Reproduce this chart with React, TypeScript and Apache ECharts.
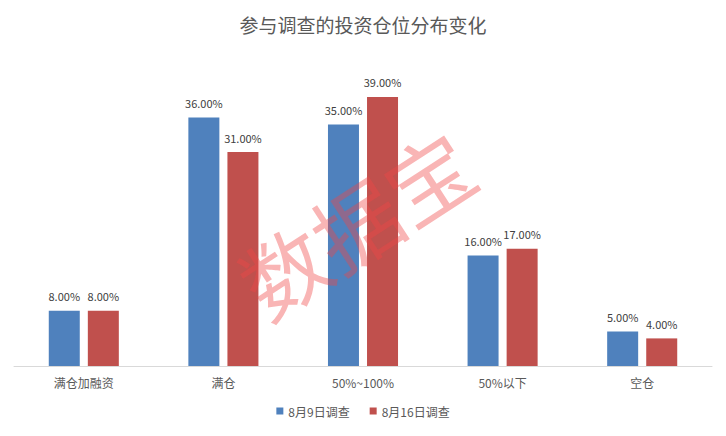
import React, { useEffect, useRef } from "react";
import * as echarts from "echarts";

const categories = ["满仓加融资", "满仓", "50%~100%", "50%以下", "空仓"];
const seriesNames = ["8月9日调查", "8月16日调查"];
const aug9 = [8, 36, 35, 16, 5];
const aug16 = [8, 31, 39, 17, 4];

export default function App() {
  const ref = useRef<HTMLDivElement>(null);
  useEffect(() => {
    const chart = echarts.init(ref.current!, null, { renderer: "svg" });
    const font = "'Microsoft YaHei', 'Noto Sans CJK SC', sans-serif";
    const label = {
      show: true,
      position: "top",
      distance: 9,
      formatter: (p: any) => p.value.toFixed(2) + "%",
      fontSize: 11,
      color: "#404040",
      fontFamily: font,
    };
    chart.setOption({
      animation: false,
      backgroundColor: "#ffffff",
      title: {
        text: "参与调查的投资仓位分布变化",
        left: "center",
        top: 10,
        textStyle: { fontSize: 19, fontWeight: "normal", color: "#595959", fontFamily: font },
      },
      legend: {
        bottom: 14,
        left: "center",
        itemWidth: 7,
        itemHeight: 7,
        itemGap: 20,
        icon: "rect",
        textStyle: { fontSize: 12, color: "#595959", fontFamily: font },
        data: seriesNames,
      },
      grid: { left: 14, right: 14, top: 55.5, bottom: 70, containLabel: false },
      xAxis: {
        type: "category",
        data: categories,
        axisLine: { lineStyle: { color: "#d9d9d9", width: 1 } },
        axisTick: { show: false },
        axisLabel: { fontSize: 12, color: "#595959", margin: 10, fontFamily: font },
      },
      yAxis: {
        type: "value",
        min: 0,
        max: 45,
        show: false,
        splitLine: { show: false },
      },
      series: [
        {
          name: seriesNames[0],
          type: "bar",
          data: aug9,
          barWidth: 31,
          barGap: "26%",
          itemStyle: { color: "#4F81BD" },
          label,
        },
        {
          name: seriesNames[1],
          type: "bar",
          data: aug16,
          barWidth: 31,
          barGap: "26%",
          itemStyle: { color: "#C0504D" },
          label,
        },
      ],
      graphic: [
        {
          type: "text",
          x: 355,
          y: 222,
          rotation: (33 * Math.PI) / 180,
          z: 100,
          style: {
            text: "数据宝",
            fontSize: 86,
            fontFamily: font,
            fill: "rgba(240, 70, 70, 0.4)",
            align: "center",
            verticalAlign: "middle",
          },
        },
      ],
    });
    return () => chart.dispose();
  }, []);
  return (
    <div
      ref={ref}
      style={{ position: "fixed", left: 0, top: 0, width: 726, height: 436 }}
    />
  );
}
